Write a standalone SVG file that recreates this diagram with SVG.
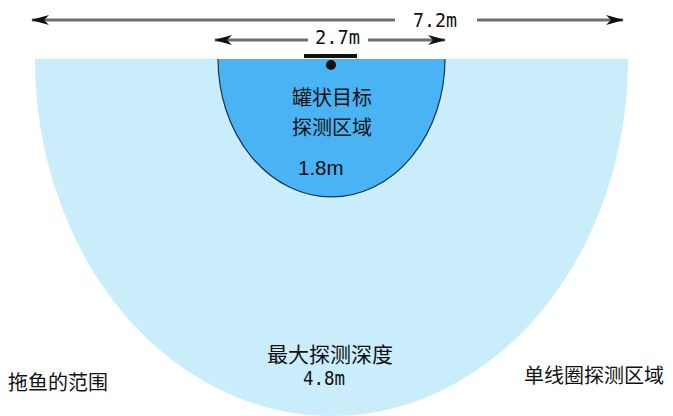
<svg xmlns="http://www.w3.org/2000/svg" width="673" height="416" viewBox="0 0 673 416">
<style>
.cjk{font-family:"Noto Sans CJK SC","Liberation Sans",sans-serif;font-size:20px;fill:#111}
.dim{font-family:"DejaVu Sans Mono","Liberation Mono",monospace;font-size:20px;fill:#111}
.sans{font-family:"Liberation Sans",Arial,sans-serif;font-size:20.5px;fill:#111}
.arr{stroke:#6e6e6e;stroke-width:3;fill:none}
</style>
<defs>
<marker id="ah" viewBox="0 0 18 10" refX="17" refY="5" markerWidth="18" markerHeight="10" markerUnits="userSpaceOnUse" orient="auto-start-reverse">
<path d="M0,0 L18,5 L0,10 L5,5 Z" fill="#111"/>
</marker>
</defs>
<rect width="673" height="416" fill="#fff"/>
<g id="coil-area">
<path d="M35,59 A296.5,357 0 0 0 628,59 Z" fill="#c9edfb"/>
</g>
<g id="target-area">
<path d="M218,59 A113.5,138 0 0 0 445,59 Z" fill="#4ab3f4"/>
<path d="M218,59 A113.5,138 0 0 0 445,59" fill="none" stroke="#1a3550" stroke-width="1.2"/>
</g>
<g id="sensor">
<rect x="304" y="54" width="53" height="4" fill="#111"/>
<circle cx="331" cy="65" r="5" fill="#111"/>
</g>
<g id="connectors">
<line class="arr" x1="32" y1="20" x2="395" y2="20" marker-start="url(#ah)"/>
<line class="arr" x1="477" y1="20" x2="623" y2="20" marker-end="url(#ah)"/>
<line class="arr" x1="215" y1="40" x2="308" y2="40" marker-start="url(#ah)"/>
<line class="arr" x1="368" y1="40" x2="445" y2="40" marker-end="url(#ah)"/>
</g>
<g id="labels">
<text class="dim" x="413" y="27" textLength="44" lengthAdjust="spacingAndGlyphs">7.2m</text>
<text class="dim" x="315" y="44" textLength="45" lengthAdjust="spacingAndGlyphs">2.7m</text>
<text class="cjk" x="332" y="105" text-anchor="middle">罐状目标</text>
<text class="cjk" x="332" y="135" text-anchor="middle">探测区域</text>
<text class="sans" x="298" y="175">1.8m</text>
<text class="cjk" x="330" y="362" text-anchor="middle" style="font-size:21px">最大探测深度</text>
<text class="dim" x="303" y="385" textLength="42" lengthAdjust="spacingAndGlyphs" style="font-size:19px">4.8m</text>
<text class="cjk" x="8" y="390">拖鱼的范围</text>
<text class="cjk" x="524" y="383">单线圈探测区域</text>
</g>
</svg>
